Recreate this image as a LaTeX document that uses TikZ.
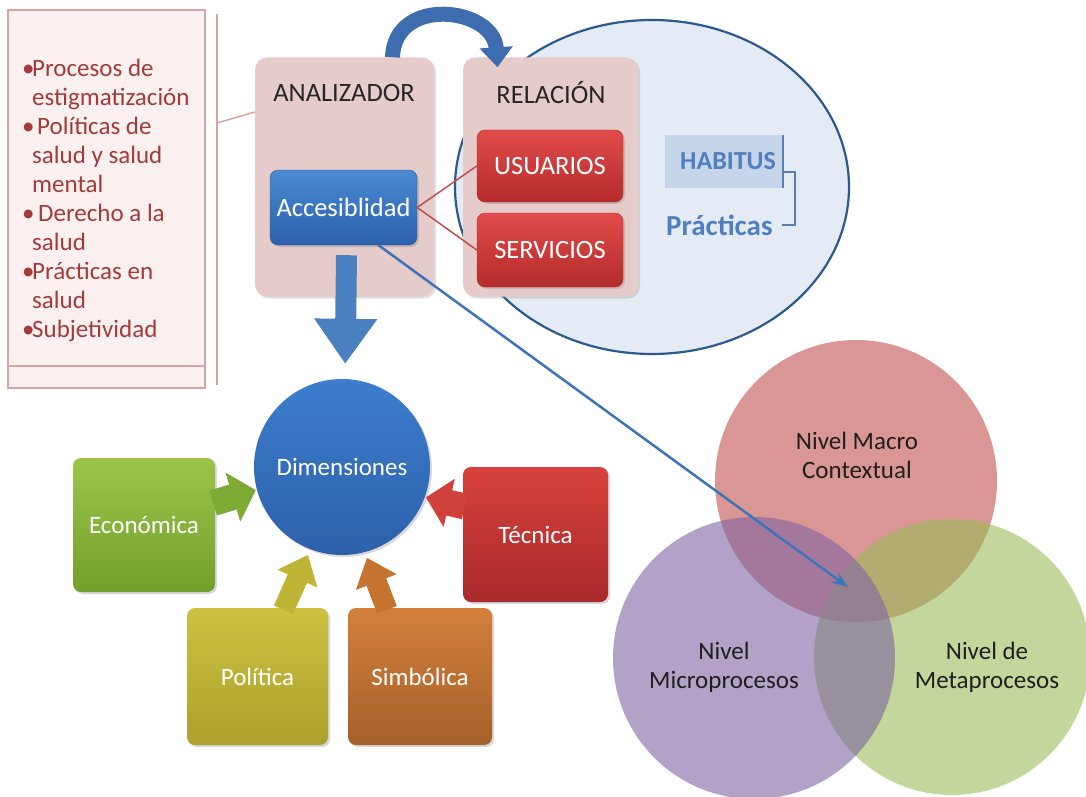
\documentclass[tikz,border=0pt]{standalone}
\usepackage{fontspec}
\setmainfont{Carlito}
\usetikzlibrary{arrows.meta,shadows,shapes.geometric,calc}
\definecolor{listfill}{HTML}{FBF0F0}
\definecolor{listborder}{HTML}{D9A3A3}
\definecolor{listtext}{HTML}{A33B3B}
\definecolor{boxfill}{HTML}{E6CBCB}
\definecolor{acctop}{HTML}{4A8AD4}
\definecolor{accbot}{HTML}{2C60AC}
\definecolor{accborder}{HTML}{2A5896}
\definecolor{redtop}{HTML}{E24B4B}
\definecolor{redbot}{HTML}{B52B2B}
\definecolor{ellfill}{HTML}{E4EBF5}
\definecolor{elldraw}{HTML}{2C5A8E}
\definecolor{habfill}{HTML}{C6D5EA}
\definecolor{habtext}{HTML}{4F7FBE}
\definecolor{brkcol}{HTML}{5A7FAE}
\definecolor{dimtop}{HTML}{3C7ECD}
\definecolor{dimbot}{HTML}{2D60AA}
\definecolor{econtop}{HTML}{9CC54A}
\definecolor{econbot}{HTML}{72A02C}
\definecolor{tectop}{HTML}{D8413C}
\definecolor{tecbot}{HTML}{A8292A}
\definecolor{poltop}{HTML}{CCC142}
\definecolor{polbot}{HTML}{ABA12C}
\definecolor{simtop}{HTML}{D47F3C}
\definecolor{simbot}{HTML}{A5612A}
\definecolor{arrblue}{HTML}{3D74B8}
\definecolor{vred}{HTML}{C0504D}
\definecolor{vgreen}{HTML}{9BBB59}
\definecolor{vpurple}{HTML}{8064A2}
\definecolor{econarr}{HTML}{7DAA35}
\definecolor{polarr}{HTML}{BEB436}
\definecolor{simarr}{HTML}{C77330}
\definecolor{tecarr}{HTML}{D0403C}
\definecolor{downarr}{HTML}{4A7FC0}
\definecolor{curvarr}{HTML}{3D6DAE}
\definecolor{linkred}{HTML}{C0504D}
\begin{document}
\begin{tikzpicture}[x=1pt,y=-1pt,
  txt/.style={font=\fontsize{25}{29}\selectfont},
  bigtxt/.style={font=\fontsize{26.5}{30}\selectfont},
  pinkbox/.style={rounded corners=12pt,fill=boxfill,inner sep=0pt,
    drop shadow={opacity=0.25,shadow xshift=2pt,shadow yshift=-2pt}},
  colbox/.style={rounded corners=8pt,inner sep=0pt,text=white,txt,
    drop shadow={opacity=0.3,shadow xshift=2pt,shadow yshift=-2pt}},
  title/.style={bigtxt,text=black!85,inner sep=0pt},
  venn/.style={circle,inner sep=0pt,fill opacity=0.6},
  venntxt/.style={txt,text=black!88,align=center,inner sep=0pt},
  listline/.style={draw=listborder,line width=1.5pt},
]
\useasboundingbox (0,0) rectangle (1086,797);
\fill[white] (0,0) rectangle (1086,797);

% list box
\node[draw=listborder,fill=listfill,line width=1.5pt,minimum width=197pt,minimum height=378pt,inner sep=0pt] (lst) at (106.5,199) {};
\draw[listline] ([yshift=23pt]lst.south west) -- ([yshift=23pt]lst.south east);
\node[txt,text=listtext,align=left,anchor=north west,inner sep=0pt] (items) at (22,59) {%
\makebox[10pt][l]{\textbullet}Procesos de\\
\hspace*{10pt}estigmatización\\
\makebox[10pt][l]{\textbullet}\hspace{5pt}Políticas de\\
\hspace*{10pt}salud y salud\\
\hspace*{10pt}mental\\
\makebox[10pt][l]{\textbullet}\hspace{6pt}Derecho a la\\
\hspace*{10pt}salud\\
\makebox[10pt][l]{\textbullet}Prácticas en\\
\hspace*{10pt}salud\\
\makebox[10pt][l]{\textbullet}Subjetividad};
\draw[listline] (217,14) -- (217,385);
\coordinate (brk) at (217,123);

% ellipse
\node[ellipse,draw=elldraw,fill=ellfill,line width=2.2pt,minimum width=394pt,minimum height=334pt,inner sep=0pt] (ell) at (652,187) {};

% analizador / relacion boxes
\node[pinkbox,minimum width=179pt,minimum height=239pt] (ana) at (344.5,177) {};
\node[pinkbox,minimum width=175pt,minimum height=239pt] (rel) at (550.5,177) {};
\draw[draw=listborder,line width=1.5pt] (brk) -- ([yshift=65pt]ana.west);
\node[title] (anat) at (344,93) {ANALIZADOR};
\node[title] (relt) at (551,93) {RELACIÓN};
\node[colbox,bigtxt,draw=accborder,top color=acctop,bottom color=accbot,minimum width=147pt,minimum height=75pt] (acc) at (343.5,207.5) {Accesiblidad};
\node[colbox,bigtxt,draw=redbot,top color=redtop,bottom color=redbot,minimum width=146pt,minimum height=72pt] (usu) at (550,166) {USUARIOS};
\node[colbox,bigtxt,draw=redbot,top color=redtop,bottom color=redbot,minimum width=146pt,minimum height=74pt] (ser) at (550,250) {SERVICIOS};
\draw[linkred,line width=1.5pt] (acc.east) -- (usu.west);
\draw[linkred,line width=1.5pt] (acc.east) -- (ser.west);

% curved arrow
\draw[curvarr,line width=15pt,-{Triangle[width=32pt,length=20pt]}] ([xshift=48pt]ana.north) .. controls +(2,-62) and +(-4,-60) .. ([xshift=-53pt,yshift=-10pt]rel.north);

% habitus
\node[fill=habfill,minimum width=118pt,minimum height=53pt,inner sep=0pt,text=habtext,font=\bfseries\fontsize{26}{30}\selectfont] (hab) at (724,161.5) {\hspace*{8pt}HABITUS};
\draw[brkcol,line width=2pt] (hab.north east) -- (hab.south east);
\node[anchor=west,inner sep=0pt,text=habtext,font=\bfseries\fontsize{29}{34}\selectfont] (prac) at (666,225) {Prácticas};
\draw[brkcol,line width=1.5pt] ([yshift=-10.5pt]hab.east) -| ([xshift=22pt]prac.east) -- ([xshift=9pt]prac.east);

% dimensiones
\node[circle,inner sep=0pt,minimum size=176pt,top color=dimtop,bottom color=dimbot,text=white,txt,
  drop shadow={opacity=0.3,shadow xshift=2pt,shadow yshift=-2pt}] (dim) at (342,467) {Dimensiones};

% down arrow
\draw[downarr,line width=21pt,-{Triangle[width=60pt,length=45pt]},shorten >=15pt] ([xshift=3pt,yshift=-10pt]acc.south) -- ([xshift=3pt]dim.north);

\node[colbox,top color=econtop,bottom color=econbot,minimum width=142pt,minimum height=134pt] (econ) at (144,525) {Económica};
\node[colbox,top color=tectop,bottom color=tecbot,minimum width=145pt,minimum height=135pt] (tec) at (535.5,534.5) {Técnica};
\node[colbox,top color=poltop,bottom color=polbot,minimum width=141pt,minimum height=137pt] (pol) at (257.5,676.5) {Política};
\node[colbox,top color=simtop,bottom color=simbot,minimum width=144pt,minimum height=137pt] (sim) at (420,676.5) {Simbólica};

\draw[econarr,line width=26pt,-{Triangle[width=50pt,length=24pt]},shorten >=1pt] ([xshift=-2pt,yshift=22pt]econ.east) -- (dim.195);
\draw[tecarr,line width=26pt,-{Triangle[width=48pt,length=24pt]},shorten >=1pt] ([xshift=2pt,yshift=28pt]tec.west) -- (dim.-20);
\draw[polarr,line width=21pt,-{Triangle[width=42pt,length=26pt]},shorten >=6pt] ([xshift=26pt,yshift=-2pt]pol.north) -- (dim.-111);
\draw[simarr,line width=21pt,-{Triangle[width=42pt,length=26pt]},shorten >=6pt] ([xshift=-33pt,yshift=-2pt]sim.north) -- (dim.-75);

% venn
\node[venn,fill=vred,minimum size=282pt] (mac) at (856,481) {};
\node[venn,fill=vgreen,minimum size=276pt] (met) at (952,657) {};
\node[venn,fill=vpurple,minimum size=282pt] (mic) at (754,658) {};
\node[venntxt] (mact) at (857,455) {Nivel Macro\\Contextual};
\node[venntxt] (mict) at (724,667) {Nivel\\Microprocesos};
\node[venntxt] (mett) at (987,667) {Nivel de\\Metaprocesos};

% long arrow
\coordinate (vennpt) at (848,587);
\draw[arrblue,line width=2.5pt,-{Stealth[length=16pt,width=12pt]}] ([xshift=35pt]acc.south) -- (vennpt);
\end{tikzpicture}
\end{document}
